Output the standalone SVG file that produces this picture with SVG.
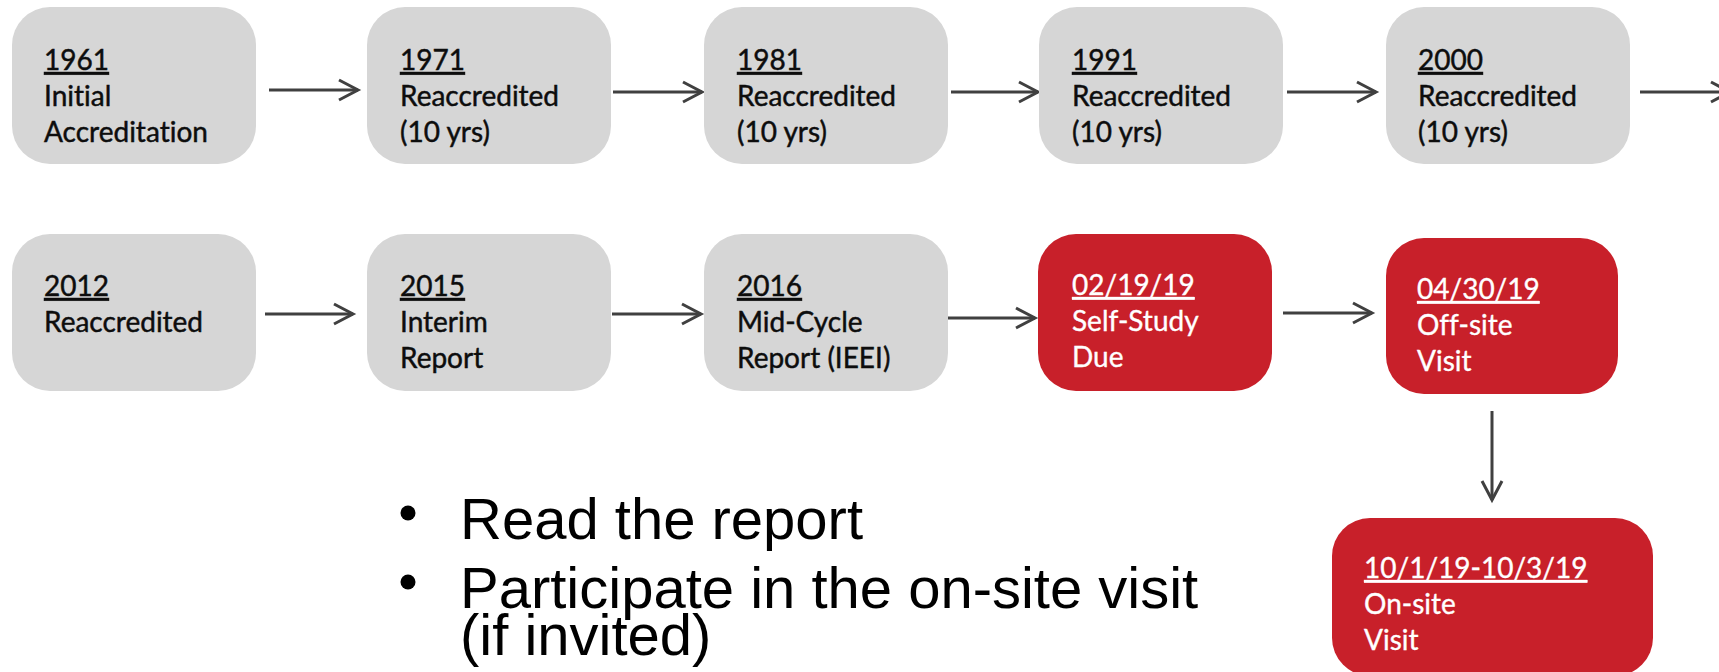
<svg xmlns="http://www.w3.org/2000/svg" width="1719" height="672" viewBox="0 0 1719 672">
  <style>
    .gray { fill: #D6D6D6; }
    .red { fill: #C8202A; }
    .t { font-family: Lato, "Liberation Sans", sans-serif; font-size: 28px; font-variant-ligatures: none; font-feature-settings: "liga" 0; }
    .dk { fill: #0D0D0D; stroke: #0D0D0D; stroke-width: 0.45px; }
    .wt { fill: #FFFFFF; stroke: #FFFFFF; stroke-width: 0.35px; }
    .u { text-decoration: underline; }
    .conn { stroke: #404040; stroke-width: 3; fill: none; marker-end: url(#arr); }
    .bul { font-family: "Liberation Sans", Arial, sans-serif; font-size: 58px; fill: #000; }
    .dot { fill: #000; }
  </style>
  <defs>
    <marker id="arr" viewBox="0 0 22 22" markerWidth="22" markerHeight="22" refX="20" refY="11" markerUnits="userSpaceOnUse" orient="auto" overflow="visible">
      <path d="M1,1 L20,11 L1,21" fill="none" stroke="#404040" stroke-width="3" stroke-linejoin="miter"/>
    </marker>
  </defs>
  <rect width="1719" height="672" fill="#FFFFFF"/>

  <g id="connectors">
    <line class="conn" x1="269" y1="90" x2="358" y2="90"/>
    <line class="conn" x1="613" y1="92" x2="702" y2="92"/>
    <line class="conn" x1="951" y1="92" x2="1038" y2="92"/>
    <line class="conn" x1="1287" y1="92" x2="1376" y2="92"/>
    <line class="conn" x1="1640" y1="92" x2="1730" y2="92"/>
    <line class="conn" x1="265" y1="314" x2="353" y2="314"/>
    <line class="conn" x1="612" y1="314" x2="701" y2="314"/>
    <line class="conn" x1="945" y1="318" x2="1035" y2="318"/>
    <line class="conn" x1="1283" y1="313" x2="1372" y2="313"/>
    <line class="conn" x1="1492" y1="411" x2="1492" y2="500"/>
  </g>

  <g id="n1961">
    <rect class="gray" x="12" y="7" width="244" height="157" rx="38"/>
    <text class="t dk" x="44" y="70"><tspan class="u">1961</tspan><tspan x="44" y="106">Initial</tspan><tspan x="44" y="142">Accreditation</tspan></text>
  </g>
  <g id="n1971">
    <rect class="gray" x="367" y="7" width="244" height="157" rx="38"/>
    <text class="t dk" x="400" y="70"><tspan class="u">1971</tspan><tspan x="400" y="106">Reaccredited</tspan><tspan x="400" y="142">(10 yrs)</tspan></text>
  </g>
  <g id="n1981">
    <rect class="gray" x="704" y="7" width="244" height="157" rx="38"/>
    <text class="t dk" x="737" y="70"><tspan class="u">1981</tspan><tspan x="737" y="106">Reaccredited</tspan><tspan x="737" y="142">(10 yrs)</tspan></text>
  </g>
  <g id="n1991">
    <rect class="gray" x="1039" y="7" width="244" height="157" rx="38"/>
    <text class="t dk" x="1072" y="70"><tspan class="u">1991</tspan><tspan x="1072" y="106">Reaccredited</tspan><tspan x="1072" y="142">(10 yrs)</tspan></text>
  </g>
  <g id="n2000">
    <rect class="gray" x="1386" y="7" width="244" height="157" rx="38"/>
    <text class="t dk" x="1418" y="70"><tspan class="u">2000</tspan><tspan x="1418" y="106">Reaccredited</tspan><tspan x="1418" y="142">(10 yrs)</tspan></text>
  </g>

  <g id="n2012">
    <rect class="gray" x="12" y="234" width="244" height="157" rx="38"/>
    <text class="t dk" x="44" y="296"><tspan class="u">2012</tspan><tspan x="44" y="332">Reaccredited</tspan></text>
  </g>
  <g id="n2015">
    <rect class="gray" x="367" y="234" width="244" height="157" rx="38"/>
    <text class="t dk" x="400" y="296"><tspan class="u">2015</tspan><tspan x="400" y="332">Interim</tspan><tspan x="400" y="368">Report</tspan></text>
  </g>
  <g id="n2016">
    <rect class="gray" x="704" y="234" width="244" height="157" rx="38"/>
    <text class="t dk" x="737" y="296"><tspan class="u">2016</tspan><tspan x="737" y="332">Mid-Cycle</tspan><tspan x="737" y="368">Report (IEEI)</tspan></text>
  </g>
  <g id="nSelfStudy">
    <rect class="red" x="1038" y="234" width="234" height="157" rx="38"/>
    <text class="t wt" x="1072" y="295"><tspan class="u">02/19/19</tspan><tspan x="1072" y="331">Self-Study</tspan><tspan x="1072" y="367">Due</tspan></text>
  </g>
  <g id="nOffsite">
    <rect class="red" x="1386" y="238" width="232" height="156" rx="38"/>
    <text class="t wt" x="1417" y="299"><tspan class="u">04/30/19</tspan><tspan x="1417" y="335">Off-site</tspan><tspan x="1417" y="371">Visit</tspan></text>
  </g>
  <g id="nOnsite">
    <rect class="red" x="1332" y="518" width="321" height="158" rx="38"/>
    <text class="t wt" x="1364" y="578"><tspan class="u">10/1/19-10/3/19</tspan><tspan x="1364" y="614">On-site</tspan><tspan x="1364" y="650">Visit</tspan></text>
  </g>

  <g id="bullets">
    <circle class="dot" cx="408" cy="513" r="7.5"/>
    <text class="bul" x="460" y="539">Read the report</text>
    <circle class="dot" cx="408" cy="582" r="7.5"/>
    <text class="bul" x="460" y="608">Participate in the on-site visit<tspan x="460" y="655">(if invited)</tspan></text>
  </g>
</svg>
